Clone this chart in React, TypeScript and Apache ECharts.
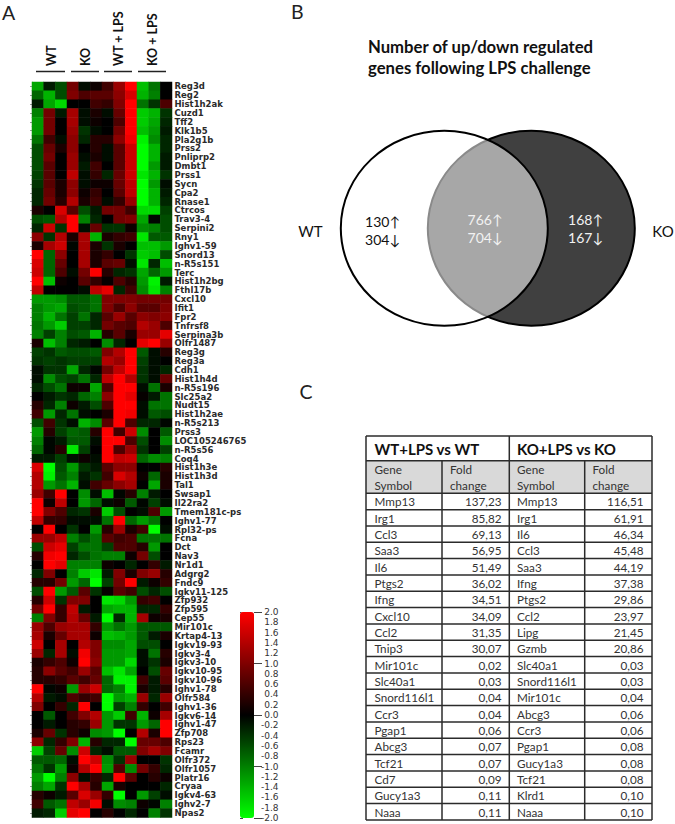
import React, { useEffect, useRef } from "react";
import * as echarts from "echarts";

const genes = ["Reg3d","Reg2","Hist1h2ak","Cuzd1","Tff2","Klk1b5","Pla2g1b","Prss2","Pnliprp2","Dmbt1","Prss1","Sycn","Cpa2","Rnase1","Ctrcos","Trav3-4","Serpini2","Rny1","Ighv1-59","Snord13","n-R5s151","Terc","Hist1h2bg","Fthl17b","Cxcl10","Ifit1","Fpr2","Tnfrsf8","Serpina3b","Olfr1487","Reg3g","Reg3a","Cdh1","Hist1h4d","n-R5s196","Slc25a2","Nudt15","Hist1h2ae","n-R5s213","Prss3","LOC105246765","n-R5s56","Coq4","Hist1h3e","Hist1h3d","Tal1","Swsap1","Il22ra2","Tmem181c-ps","Ighv1-77","Rpl32-ps","Fcna","Dct","Nav3","Nr1d1","Adgrg2","Fndc9","Igkv11-125","Zfp932","Zfp595","Cep55","Mir101c","Krtap4-13","Igkv19-93","Igkv3-4","Igkv3-10","Igkv10-95","Igkv10-96","Ighv1-78","Olfr584","Ighv1-36","Igkv6-14","Ighv1-47","Zfp708","Rps23","Fcamr","Olfr372","Olfr1057","Platr16","Cryaa","Igkv4-63","Ighv2-7","Npas2"];

const samples = ["WT1","WT2","WT3","KO1","KO2","KO3","WTL1","WTL2","WTL3","KOL1","KOL2","KOL3"];

const heatValues: number[][] = [
[-1.3,-0.2,-0.6,0.9,-0.1,0.1,0.5,1.2,2,-1.5,-0.9,0],
[-0.8,-1.4,-0.6,1,0.6,0.7,0.7,1.1,1.7,-1.4,-1,0],
[-0.2,-1.3,-1.7,0,0,0.5,0.4,1,2,-0.9,-0.4,0.6],
[-1,0.9,-0.2,1.3,-0.1,0.2,-0.1,0.8,2,-1.6,-1.4,-0.4],
[-1.2,0.9,0,1.3,-0.1,0.1,0,0.6,2,-1.6,-1.3,-0.3],
[-1.2,0.9,0,1.2,-0.4,-0.1,0,0.9,2,-1.5,-1.2,-0.2],
[-0.9,0.5,-0.1,1.1,-0.3,0.3,0.3,1.1,1.9,-1.9,-1.1,-0.3],
[-0.6,0.8,0.2,1.1,0,0.3,-0.1,0.7,1.6,-2,-1.4,-0.3],
[-0.6,0.9,0,1.2,-0.1,0.2,-0.1,0.7,1.6,-2,-1.4,-0.2],
[-0.6,0.7,0,1.2,-0.2,0.5,0,0.7,1.6,-2,-1.2,-0.2],
[-0.5,0.7,0,1.5,-0.1,0.4,-0.3,0.8,1.6,-1.8,-1.4,-0.4],
[-0.4,0.7,0.2,1.1,-0.1,0.1,0.1,0.8,1.5,-2,-1.2,-0.1],
[-0.3,0.8,0.2,1.1,0.1,0.4,0,0.7,1.5,-2,-1.4,-0.2],
[-0.3,0.9,0.3,1.4,0.2,0.5,-0.1,0.4,1.2,-2,-1.4,-0.3],
[0.2,0,1.7,0.7,-0.6,-0.2,0.9,0.9,0.5,-1.7,-1.7,-0.5],
[-0.6,-0.7,1.4,2,-1,-0.3,0,0.9,1,-1.3,-0.05,-0.6],
[-0.3,1.6,-0.4,2,-0.1,0.8,-0.4,-0.4,0.1,-1.1,-1,-0.6],
[1.1,-0.4,1.4,0.2,1.3,-1.4,0.2,0.4,0.5,-1.8,-0.7,-0.7],
[0.2,1.3,1.6,-0.05,1.3,0.2,-0.4,0.2,0,-1.5,-1.5,-1.2],
[2,-0.8,1.1,0,1.3,0.2,0.4,0,-0.4,-1.6,-1.5,-0.6],
[1.7,-0.8,0.8,0,1.3,0.2,0.7,0.8,-0.1,-1.8,-0.3,-1.5],
[1.6,-0.8,0.6,-0.1,0.9,2,0.3,-0.3,-0.4,-1.3,-0.8,-1.2],
[2,-1.5,0.1,0,0.7,0.4,0.05,0.6,0.3,-1.2,-1.9,-0.2],
[1.5,0,0,0,-0.1,1.5,1.8,-0.3,0.5,-1.1,-1.8,-1],
[-1.2,-1.2,-1.1,-0.7,-0.7,-0.9,1,1,1,0.9,0.9,0.9],
[-1,-1.2,-1.3,-0.6,-0.7,-0.9,1,0.6,1.1,0.7,0.7,1],
[-1,-1.4,-0.9,-0.5,-0.9,-0.3,0.7,1.2,0.7,1.1,1,1.1],
[-0.9,-1.2,-1.6,-0.5,-0.5,-0.3,0.9,0.7,0.6,1.4,1.2,0.6],
[-1,-0.5,-1,-0.6,-0.7,-1.4,0.3,0.7,0.2,1.2,1.2,1.8],
[0.2,-1.5,-1,-0.3,-0.2,0,-1.1,-0.3,0,1.8,2,1.2],
[-0.5,-0.4,-0.7,-0.6,-0.6,-0.7,1,1.4,2,-0.7,-0.1,0.3],
[-0.4,-0.5,-0.4,-0.5,-0.5,-0.5,1.4,1.2,2,-0.5,-0.1,0],
[-0.1,-0.4,-0.4,-1.3,-0.3,-0.05,0.9,1.5,2,-0.4,-0.1,-0.3],
[-0.1,-1.1,-0.6,-0.5,-0.9,-0.3,1.5,2,1.4,-0.4,-0.1,0.8],
[-0.3,-0.6,-0.9,0.1,0.1,-1.3,0.6,2,2,-0.1,-0.9,0.2],
[0,-0.2,-0.4,-0.3,-0.8,-1,1.1,2,1.8,0.05,-0.2,-0.9],
[0.3,-0.3,-1,0.1,-0.2,-0.6,0.6,2,2,-0.1,-0.9,-0.9],
[0.5,-1.2,-0.3,-0.9,-0.1,0,0.2,2,1.9,-0.1,-0.7,-0.6],
[-0.6,0.5,-0.4,-0.1,-1.4,-1.1,0.7,2,0.6,-0.3,-0.3,-0.05],
[-1.2,0.3,-0.5,-0.8,-0.7,0.3,2,0.5,1.6,-1.1,0,-0.7],
[-1,-0.05,-0.2,-0.7,-0.7,-0.1,2,2,0.6,-0.6,0,-1.1],
[-0.8,-0.05,0.3,-1.8,-0.5,0,2,0.6,1.2,-0.4,0,-0.5],
[-0.2,-0.2,-0.5,-0.1,0.1,-0.1,2,1.5,1.6,-0.8,-1.1,-1],
[1.7,-2,-0.6,-1.2,-0.4,-0.2,0.7,1.1,1.1,0,0,0.3],
[1.4,-1.9,-0.7,-1,-0.2,-0.4,0.5,1.7,1.4,0.1,-0.8,0.2],
[1.4,-1.2,-0.9,-1.4,-0.1,0.5,0.8,1.1,1.3,0,-1.3,0.2],
[1.2,0.5,2,0,-1.1,-0.1,-1.5,-0.05,0.3,-1,-0.2,0],
[2,0.1,1.5,0,-1.2,-0.8,-0.1,0.1,-0.7,-0.05,-0.5,-0.1],
[2,1,0.6,-0.3,-0.4,0.2,-1.6,-0.6,0,-0.1,0.6,-1.2],
[1.5,0.4,0.4,-0.1,-0.1,-0.1,-0.9,2,-0.8,-1.2,-0.9,0],
[0,2,0,-0.4,0,-1.2,0.3,1.2,0.2,0.5,-2,-0.1],
[1.2,1.2,1.5,-1,-0.6,-0.9,0.7,0.5,0.6,-0.9,-0.9,-0.9],
[-0.6,1.6,1.8,-0.5,-0.9,-0.9,-0.5,0.6,0.6,0.3,-1.2,0],
[0.3,1.9,2,-0.3,-0.6,-0.9,-1,-1,0.1,0.9,-0.6,0],
[0,2,1.8,-1,-1,-1,0.1,0,-0.3,0,0.4,-0.2],
[-0.3,1,0,-1,-1.6,-1.8,-0.2,1,0.2,1,1.2,0.3],
[0.3,0.3,0.9,-1.2,-0.8,-2,-0.5,0.9,2,-0.2,0.1,0.4],
[-0.6,2,-1.2,-0.7,0.7,-0.4,0.05,0.7,0.5,-0.6,-0.3,-0.6],
[0.3,1.6,-0.4,1,1,0,-1.8,-1.7,-1.2,0.4,0.5,0],
[0.9,2,0.4,1.5,-0.2,0,-1.3,-1.4,-1.4,-0.3,-0.3,0.4],
[-1,1,0.4,1.4,0.8,-0.2,-2,-0.3,-1.4,1.3,0.1,0.2],
[1.2,0.6,1.2,1.3,1.3,0.4,-1.2,-0.9,-1.2,-0.7,-0.7,-0.7],
[1.3,0.2,0.8,1.3,1.3,0.1,-1.5,-1.4,-1.2,-0.7,-0.2,0.2],
[1.6,0,1.3,0,1.4,1,-1.1,-1.1,-1.3,-0.6,-0.6,0],
[1.2,-0.3,1.3,-0.1,1.9,1,-1.2,-1.2,-1.3,-0.1,-0.9,0.3],
[0.2,0.4,0.6,0.1,2,1.1,-1.2,-1.2,-1.7,-0.1,-0.4,0.2],
[0.3,1.1,0.7,0.5,1.2,0.7,-1.5,-1.8,-1.3,0,-0.6,0.8],
[0.3,0.3,0.4,0.7,0.5,0.8,-0.8,-1.9,-1.9,0.5,-0.2,0.7],
[2,-0.05,0.1,-1.2,1.2,1.6,-0.8,-1,-1.9,0.2,-0.2,0.3],
[1.4,-0.2,-0.1,0.6,0.4,0.5,-2,-1.2,-1.4,1.2,-0.3,1.2],
[1,0,0.4,-0.3,2,0,-2,-0.5,-1,0.4,0,0.5],
[0,-0.7,0,0.5,1,1.4,-1.2,-1.6,0.5,-1.4,0.1,1.3],
[0,-0.2,0,0.3,0.4,1.2,-1.2,-0.4,-0.4,-1.2,-0.8,2],
[0.2,0.8,-0.4,0.3,0.1,-1.1,-1.2,-2,0,1.4,0.2,2],
[1.1,-0.3,0.4,1,-1.4,0.3,-0.3,-0.3,-2,0.8,0.8,0.6],
[-1.6,-0.5,0.8,-1.1,1.6,-0.3,-0.1,-0.7,-0.7,1,1.3,1],
[-0.7,-0.7,-0.8,-0.1,2,1.6,-1.1,-0.4,1.2,0,0,-0.4],
[-0.9,-0.4,-1.2,0.1,1.4,2,-1.2,0.6,-1.1,0.9,0.4,-0.3],
[-1.2,-2,-1,1.1,-0.1,0.4,-0.3,2,0.7,0,0.3,0.1],
[-1,-1.3,-0.4,2,1.3,0.3,-1.3,0.2,0,0,0,-0.3],
[0.3,0.1,-0.2,0.7,1.7,1.2,0.4,-2,0,-1.2,-0.5,-0.1],
[0.5,-0.7,-0.9,1.5,1.2,1.9,-0.1,-1.1,-1,0.1,-0.05,-1],
[-0.2,-0.3,-1.6,1.8,2,0,0.3,0,-0.3,0,-1,-0.4],
];

const groupLabels = ["WT", "KO", "WT + LPS", "KO + LPS"];

const vennTitle = ["Number of up/down regulated", "genes following LPS challenge"];
const vennNames = ["WT", "KO"];
const vennCounts = [["130↑", "304↓"], ["766↑", "704↓"], ["168↑", "167↓"]];

const tableTitles = ["WT+LPS vs WT", "KO+LPS vs KO"];
const tableHeaders = [["Gene", "Symbol"], ["Fold", "change"]];
const wtGenes = ["Mmp13","Irg1","Ccl3","Saa3","Il6","Ptgs2","Ifng","Cxcl10","Ccl2","Tnip3","Mir101c","Slc40a1","Snord116l1","Ccr3","Pgap1","Abcg3","Tcf21","Cd7","Gucy1a3","Naaa"];
const wtFold = ["137,23","85,82","69,13","56,95","51,49","36,02","34,51","34,09","31,35","30,07","0,02","0,03","0,04","0,04","0,06","0,07","0,07","0,09","0,11","0,11"];
const koGenes = ["Mmp13","Irg1","Il6","Ccl3","Saa3","Ifng","Ptgs2","Ccl2","Lipg","Gzmb","Slc40a1","Snord116l1","Mir101c","Abcg3","Ccr3","Pgap1","Gucy1a3","Tcf21","Klrd1","Naaa"];
const koFold = ["116,51","61,91","46,34","45,48","44,19","37,38","29,86","23,97","21,45","20,86","0,03","0,03","0,04","0,06","0,06","0,08","0,08","0,08","0,10","0,10"];

const SANS = "Lato, 'Open Sans', sans-serif";
const DEJA = "'DejaVu Sans', sans-serif";

function txt(x: number, y: number, text: string, fontSize: number, extra: any = {}, rotation = 0) {
  const { fontFamily, ...rest } = extra;
  return {
    type: "text", x, y, rotation, silent: true,
    style: { text, fontSize, fontFamily: fontFamily || SANS, fill: "#111", align: "left", verticalAlign: "middle", ...rest },
  };
}
function seg(x1: number, y1: number, x2: number, y2: number, stroke = "#2b2b2b", lineWidth = 1.5) {
  return { type: "line", silent: true, shape: { x1, y1, x2, y2 }, style: { stroke, lineWidth } };
}

function buildGraphics() {
  const g: any[] = [];
  g.push(txt(2, 12, "A", 19.5, { fill: "#222" }));
  g.push(txt(291, 11, "B", 19.5, { fill: "#222" }));
  g.push(txt(299.5, 391.7, "C", 19.5, { fill: "#222" }));

  const groupX = [51, 85, 118, 152];
  const lineX = [[36, 65], [71, 99], [104, 132], [138, 166]];
  groupLabels.forEach((t, i) => {
    g.push(txt(groupX[i], 66, t, 12.5, { fontWeight: "bold", fill: "#111" }, Math.PI / 2));
    g.push(seg(lineX[i][0], 71.5, lineX[i][1], 71.5, "#222", 1.5));
  });

  // Venn
  g.push({ type: "ellipse", silent: true, shape: { cx: 531.3, cy: 228.3, rx: 103.5, ry: 97.5 }, style: { fill: "#404040", stroke: "#000", lineWidth: 2 } });
  g.push({ type: "ellipse", silent: true, shape: { cx: 444.3, cy: 228.3, rx: 103.5, ry: 97.5 }, style: { fill: "rgba(255,255,255,0.54)", stroke: "#000", lineWidth: 2 } });
  g.push(txt(368, 47, vennTitle[0], 16.7, { fontWeight: "bold" }));
  g.push(txt(368, 68, vennTitle[1], 16.7, { fontWeight: "bold" }));
  g.push(txt(310.5, 230.5, vennNames[0], 15, { align: "center" }));
  g.push(txt(663, 230.5, vennNames[1], 15, { align: "center" }));
  const cx = [382.5, 485, 585.5];
  const fills = ["#111", "#f2f2f2", "#f2f2f2"];
  const ys = [[221, 239], [219, 237], [219, 237]];
  vennCounts.forEach((pair, i) => {
    pair.forEach((t, j) => g.push(txt(cx[i], ys[i][j], t, 14, { align: "center", fill: fills[i], fontFamily: "Lato, 'DejaVu Sans', sans-serif" })));
  });

  // Table
  const L = 366, R = 652, T = 436;
  const yTitle = 460.7, yHead = 493.3, rowH = 16.33, B = 820;
  const cols = [442, 509.3, 584.7];
  g.push({ type: "rect", silent: true, shape: { x: L, y: yTitle, width: R - L, height: yHead - yTitle }, style: { fill: "#d9d9d9" } });
  g.push(seg(L, T, R, T)); g.push(seg(L, B, R, B)); g.push(seg(L, T, L, B)); g.push(seg(R, T, R, B));
  g.push(seg(L, yTitle, R, yTitle)); g.push(seg(cols[1], T, cols[1], B));
  g.push(seg(cols[0], yTitle, cols[0], B)); g.push(seg(cols[2], yTitle, cols[2], B));
  for (let i = 0; i < 20; i++) g.push(seg(L, yHead + i * rowH, R, yHead + i * rowH));
  g.push(txt(374.5, 449, tableTitles[0], 15, { fontWeight: "bold" }));
  g.push(txt(517, 449, tableTitles[1], 15, { fontWeight: "bold" }));
  const headX = [374.5, 450, 517, 592.5];
  headX.forEach((x, i) => {
    const h = tableHeaders[i % 2];
    g.push(txt(x, 468.5, h[0], 11.7, { fill: "#333" }));
    g.push(txt(x, 485, h[1], 11.7, { fill: "#333" }));
  });
  wtGenes.forEach((t, i) => {
    const y = yHead + rowH * (i + 0.5);
    g.push(txt(374.5, y, t, 11.7, { fill: "#333" }));
    g.push(txt(501.5, y, wtFold[i], 11.7, { fill: "#333", align: "right" }));
    g.push(txt(517, y, koGenes[i], 11.7, { fill: "#333" }));
    g.push(txt(643.5, y, koFold[i], 11.7, { fill: "#333", align: "right" }));
  });
  return g;
}

export default function App() {
  const ref = useRef<HTMLDivElement>(null);
  useEffect(() => {
    document.body.style.margin = "0";
    const chart = echarts.init(ref.current!, undefined, { renderer: "svg" });
    const data: number[][] = [];
    heatValues.forEach((row, r) => row.forEach((v, c) => data.push([c, r, v])));
    const fmt = (v: number) => (Math.abs(v) < 1e-9 ? "0.0" : v.toFixed(1));
    chart.setOption({
      animation: false,
      backgroundColor: "#fff",
      grid: [
        { left: 32, top: 82, width: 140, height: 735.5 },
        { left: 240, top: 612, width: 14, height: 206 },
      ],
      xAxis: [
        { type: "category", data: samples, gridIndex: 0, show: false },
        { type: "value", gridIndex: 1, show: false, min: 0, max: 1 },
      ],
      yAxis: [
        {
          type: "category", data: genes, inverse: true, gridIndex: 0, position: "right",
          axisLine: { show: false }, axisTick: { show: false },
          axisLabel: { interval: 0, margin: 2.5, fontSize: 8.5, fontWeight: "bold", fontFamily: DEJA, color: "#2a2a2a" },
        },
        {
          type: "category", data: genes, inverse: true, gridIndex: 0, position: "left",
          axisLine: { show: true, lineStyle: { color: "#bbb", width: 1 } },
          axisTick: { show: true, length: 2, alignWithLabel: true, interval: 0, lineStyle: { color: "#999" } },
          axisLabel: { show: false },
        },
        {
          type: "value", gridIndex: 1, position: "right", min: -2, max: 2, interval: 0.2,
          axisLine: { show: false }, splitLine: { show: false },
          axisTick: { show: true, length: 3, lineStyle: { color: "#444" } },
          axisLabel: { align: "right", margin: 24.5, fontSize: 9, fontFamily: DEJA, color: "#333", formatter: fmt },
        },
        {
          type: "value", gridIndex: 1, position: "right", min: -2, max: 2, interval: 1,
          axisLine: { show: false }, splitLine: { show: false },
          axisTick: { show: true, length: 8, lineStyle: { color: "#444" } },
          axisLabel: { show: false },
        },
      ],
      visualMap: {
        type: "continuous", seriesIndex: 0, min: -2, max: 2, calculable: false, hoverLink: false,
        left: 240, top: 612, itemWidth: 14, itemHeight: 206, text: ["", ""], padding: 0,
        inRange: { color: ["#00ff00", "#000000", "#ff0000"] },
      },
      series: [
        { type: "heatmap", xAxisIndex: 0, yAxisIndex: 0, data, progressive: 0, silent: true },
      ],
      graphic: { elements: buildGraphics() },
    });
    return () => chart.dispose();
  }, []);
  return <div ref={ref} style={{ width: 675, height: 824, position: "absolute", left: 0, top: 0 }} />;
}
